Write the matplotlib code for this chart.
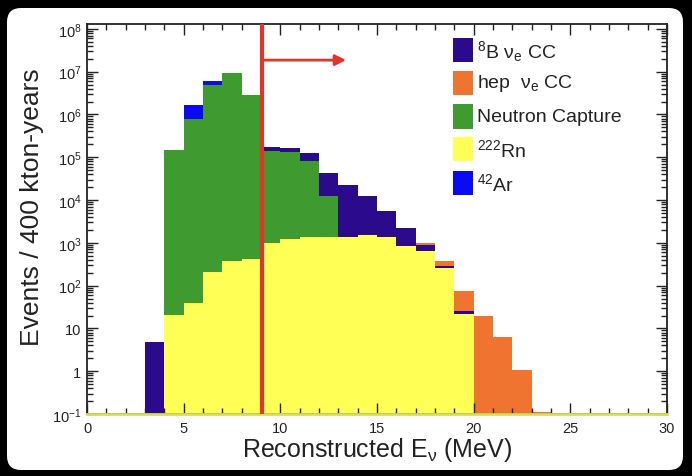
import numpy as np
import matplotlib.pyplot as plt
from matplotlib.patches import FancyBboxPatch, Rectangle
from matplotlib.transforms import IdentityTransform
from matplotlib.ticker import FixedLocator, LogLocator, MultipleLocator, NullFormatter

plt.rcParams['font.family'] = ['Liberation Sans', 'DejaVu Sans']
plt.rcParams['mathtext.fontset'] = 'custom'
plt.rcParams['mathtext.rm'] = 'Liberation Sans'
plt.rcParams['mathtext.it'] = 'Liberation Sans:italic'

# 1 MeV bins from 0 to 30 MeV, events / 400 kton-years
edges = np.arange(0, 31)
rn222 = [0, 0, 0, 0, 21, 39, 210, 370, 415, 1000,
         1230, 1350, 1400, 1400, 1500, 1350, 830, 630, 258, 21.5,
         0, 0, 0, 0, 0, 0, 0, 0, 0, 0]
neutron = [0, 0, 0, 0, 1.48e5, 7.9e5, 4.9e6, 9.1e6, 2.8e6, 1.38e5,
           1.31e5, 8.0e4, 1.09e4, 0, 0, 0, 0, 0, 0, 0,
           0, 0, 0, 0, 0, 0, 0, 0, 0, 0]
b8 = [0, 0, 0, 4.9, 0, 0, 0, 0, 0, 3.3e4,
      3.4e4, 4.2e4, 3.0e4, 2.06e4, 1.08e4, 4.25e3, 1.37e3, 240, 36, 3.5,
      0, 0, 0, 0, 0, 0, 0, 0, 0, 0]
hep = [0, 0, 0, 0, 0, 0, 0, 0, 0, 0,
       0, 0, 0, 0, 0, 0, 0, 130, 76, 48,
       19, 6.3, 1.07, 0.11, 0, 0, 0, 0, 0, 0]
ar42 = [0, 0, 0, 0, 0, 8.7e5, 1.1e6, 0, 0, 0,
        0, 0, 0, 0, 0, 0, 0, 0, 0, 0,
        0, 0, 0, 0, 0, 0, 0, 0, 0, 0]

labels = [r'$^{222}$Rn', 'Neutron Capture', r'$^{8}$B ν$_{\mathrm{e}}$ CC',
          r'hep  ν$_{\mathrm{e}}$ CC', r'$^{42}$Ar']
colors = ['#ffff55', '#3f9a2f', '#2c0a8c', '#ef7430', '#0a0af5']
legend_order = [2, 3, 1, 0, 4]

cut = 9.05
ymin, ymax = 0.1, 1.3e8

fig = plt.figure(figsize=(6.92, 4.77), dpi=100, facecolor='black')
fig.add_artist(FancyBboxPatch((7, 6), 676, 462,
                              boxstyle='round,pad=0,rounding_size=14',
                              transform=IdentityTransform(),
                              fc='white', ec='none', zorder=-5))
ax = fig.add_axes([87 / 692, 62 / 477, 580 / 692, 390 / 477])

# stacked histogram, drawn from the total down
tops = np.cumsum(np.vstack([rn222, neutron, b8, hep, ar42]), axis=0)
for top, c in reversed(list(zip(tops, colors))):
    ax.stairs(np.maximum(top, ymin), edges, baseline=ymin, fill=True,
              color=c, lw=0)
ax.axhline(ymin, color='#d8de55', lw=2, zorder=3, clip_on=False)

# energy threshold and arrow
ax.axvline(cut, color='#e2352a', lw=3, zorder=4)
ax.annotate('', xy=(13.4, 1.86e7), xytext=(cut, 1.86e7),
            arrowprops=dict(arrowstyle='-|>', color='#e2352a', lw=2,
                            mutation_scale=16, shrinkA=0, shrinkB=0),
            zorder=4)

ax.set_yscale('log')
ax.set_xlim(0, 30)
ax.set_ylim(ymin, ymax)

ax.xaxis.set_major_locator(MultipleLocator(5))
ax.xaxis.set_minor_locator(MultipleLocator(1))
yt = [10.0 ** k for k in range(-1, 9)]
ax.yaxis.set_major_locator(FixedLocator(yt))
ax.set_yticklabels(['10$^{-1}$', '1', '10'] +
                   ['10$^{%d}$' % k for k in range(2, 9)])
ax.yaxis.set_minor_locator(LogLocator(base=10, subs=np.arange(2, 10), numticks=20))
ax.yaxis.set_minor_formatter(NullFormatter())
ax.tick_params(which='both', direction='in', top=True, right=True,
               colors='#222222', labelsize=10.5, width=1)
ax.tick_params(which='major', length=8)
ax.tick_params(which='minor', length=4)
ax.tick_params(axis='x', pad=5)
ax.tick_params(axis='y', pad=4)
for s in ax.spines.values():
    s.set_color('#222222')
    s.set_linewidth(1.3)

ax.set_xlabel('Reconstructed E$_{\\mathrm{ν}}$ (MeV)', fontsize=18, color='#222222')
ax.set_ylabel('Events / 400 kton-years', fontsize=19, color='#222222')
ax.xaxis.label.set_va('center')
ax.yaxis.label.set_va('center')
ax.xaxis.set_label_coords(0.5, -0.09)
ax.yaxis.set_label_coords(-0.095, 0.532)

# legend boxes
ys = [0.933, 0.849, 0.763, 0.679, 0.593]
for yc, i in zip(ys, legend_order):
    ax.add_patch(Rectangle((0.631, yc - 0.031), 0.0345, 0.062,
                           transform=ax.transAxes, fc=colors[i], ec='none',
                           zorder=5))
    ax.text(0.672, yc, labels[i], transform=ax.transAxes, fontsize=14,
            va='center', ha='left', color='#222222', zorder=5)

fig.savefig('out.png', dpi=100, facecolor=fig.get_facecolor())
